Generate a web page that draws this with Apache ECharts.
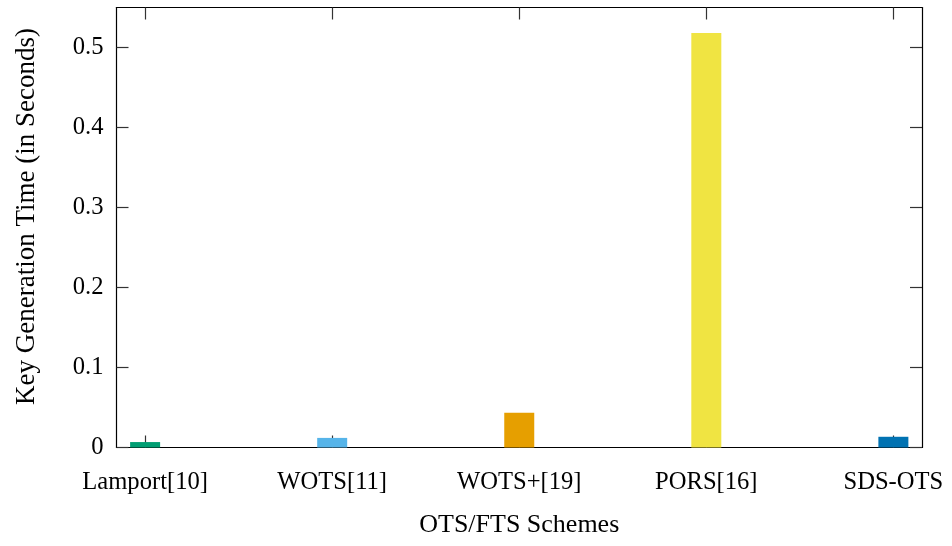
<!DOCTYPE html>
<html>
<head>
<meta charset="utf-8">
<script src="https://cdn.jsdelivr.net/npm/echarts@6/dist/echarts.min.js"></script>
<style>
  html, body { margin: 0; padding: 0; background: #fff; }
  #chart { width: 952px; height: 546px; }
</style>
</head>
<body>
<div id="chart"></div>
<script>
// Key generation time per scheme (seconds)
const schemes = ['Lamport[10]', 'WOTS[11]', 'WOTS+[19]', 'PORS[16]', 'SDS-OTS'];
const keyGenTime = [0.0068, 0.012, 0.0434, 0.518, 0.0134];
const barColors = ['#009e73', '#56b4e9', '#e69f00', '#f0e442', '#0072b2'];
const yTicks = [0, 0.1, 0.2, 0.3, 0.4, 0.5];

const schemeIdx = schemes.map((_, i) => i);
const FONT = 'Liberation Serif';
const AXIS_COLOR = '#000';

const chart = echarts.init(document.getElementById('chart'), null, { renderer: 'canvas' });

const xBase = {
  type: 'value',
  min: -0.153,
  max: 4.153,
  splitLine: { show: false },
  axisLine: { show: true, onZero: false, lineStyle: { color: AXIS_COLOR, width: 1.2 } },
  axisTick: { show: true, inside: true, length: 12, customValues: schemeIdx,
              lineStyle: { color: '#333', width: 1.2 } }
};

const yBase = {
  type: 'value',
  min: 0,
  max: 0.55,
  splitLine: { show: false },
  axisLine: { show: true, onZero: false, lineStyle: { color: AXIS_COLOR, width: 1.2 } },
  axisTick: { show: true, inside: true, length: 12, customValues: yTicks,
              lineStyle: { color: '#333', width: 1.2 } }
};

chart.setOption({
  animation: false,
  backgroundColor: '#fff',
  grid: { left: 116.5, right: 30, top: 7.5, bottom: 98.5, containLabel: false },
  xAxis: [
    Object.assign({}, xBase, {
      position: 'bottom',
      name: 'OTS/FTS Schemes',
      nameLocation: 'middle',
      nameGap: 65,
      nameTextStyle: { fontFamily: FONT, fontSize: 26, color: '#000' },
      axisLabel: {
        show: true, margin: 23, customValues: schemeIdx,
        fontFamily: FONT, fontSize: 24.6, color: '#000',
        formatter: v => schemes[Math.round(v)]
      }
    }),
    Object.assign({}, xBase, { position: 'top', axisLabel: { show: false } })
  ],
  yAxis: [
    Object.assign({}, yBase, {
      position: 'left',
      name: 'Key Generation Time (in Seconds)',
      nameLocation: 'middle',
      nameGap: 76,
      nameTextStyle: { fontFamily: FONT, fontSize: 27, color: '#000', padding: [0, 0, 0, 22] },
      axisLabel: {
        show: true, margin: 13, customValues: yTicks,
        fontFamily: FONT, fontSize: 24.6, color: '#000'
      }
    }),
    Object.assign({}, yBase, { position: 'right', axisLabel: { show: false } })
  ],
  series: [{
    type: 'bar',
    xAxisIndex: 0,
    yAxisIndex: 0,
    barWidth: 30,
    z: 3,
    data: keyGenTime.map((v, i) => ({
      value: [i, v],
      itemStyle: { color: barColors[i] }
    }))
  }]
});
</script>
</body>
</html>
